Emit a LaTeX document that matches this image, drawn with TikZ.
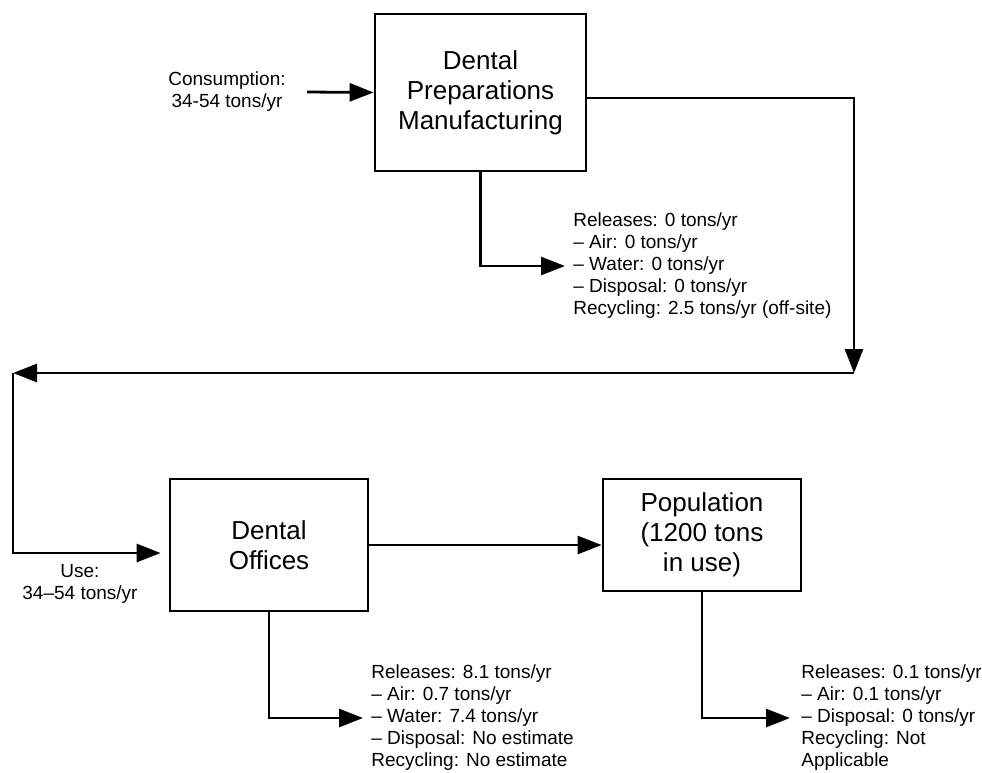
\documentclass[tikz,border=0pt]{standalone}
\usepackage{fontspec}
\setmainfont{Liberation Sans}
\usetikzlibrary{arrows.meta,positioning,calc}

\begin{document}
\begin{tikzpicture}[x=1pt,y=-1pt,line width=2.8pt,
  stage node/.style={rectangle,draw,line width=2.8pt,align=center,inner sep=0pt,font=\fontsize{26}{30}\selectfont},
  note node/.style={inner sep=0pt,font=\fontsize{19}{22}\selectfont},
  flow/.style={draw=black,-{Triangle[length=24pt,width=18pt]}}]
\useasboundingbox (0,0) rectangle (982,772);
\begin{scope}
\node[stage node,minimum width=211pt,minimum height=157pt] (mfg) at (480.5,92.5) {Dental\\Preparations\\Manufacturing};
\node[stage node,minimum width=198pt,minimum height=132pt] (offices) at (269,545) {Dental\\Offices};
\node[stage node,minimum width=198pt,minimum height=112pt] (pop) at (702,535) {Population\\(1200 tons\\in use)};
\end{scope}
\begin{scope}[every node/.style={note node}]
\node[align=center] (cons) at (227,92) {Consumption:\\34-54 tons/yr};
\node[align=center] (use) at (80,584) {Use:\\34–54 tons/yr};
\node[align=left,anchor=west] (mfgrel) at (572,266) {Releases: 0 tons/yr\\– Air: 0 tons/yr\\– Water: 0 tons/yr\\– Disposal: 0 tons/yr\\Recycling: 2.5 tons/yr (off-site)};
\node[align=left,anchor=west] (offrel) at (370,718) {Releases: 8.1 tons/yr\\– Air: 0.7 tons/yr\\– Water: 7.4 tons/yr\\– Disposal: No estimate\\Recycling: No estimate};
\node[align=left,anchor=west] (poprel) at (800,718) {Releases: 0.1 tons/yr\\– Air: 0.1 tons/yr\\– Disposal: 0 tons/yr\\Recycling: Not\\Applicable};
\end{scope}
% turning points of the long return line
\coordinate (t1) at (854,98);
\coordinate (t2) at (854,373);
\coordinate (t3) at (13,373);
\coordinate (t4) at (13,553);
\begin{scope}[every path/.style={flow}]
\draw ([xshift=20pt]cons.east) -- (mfg.west);
\draw (t1 -| mfg.east) -- (t1) -- (t2);
\draw (t2) -- (t3);
\draw[shorten >=8pt] (t3) -- (t4) -- (t4 -| offices.west);
\draw (offices.east) -- (offices.east -| pop.west);
\draw[shorten >=7pt] (mfg.south) |- (mfgrel.west);
\draw[shorten >=7pt] (offices.south) |- (offrel.west);
\draw[shorten >=10pt] (pop.south) |- (poprel.west);
\end{scope}
\end{tikzpicture}
\end{document}
